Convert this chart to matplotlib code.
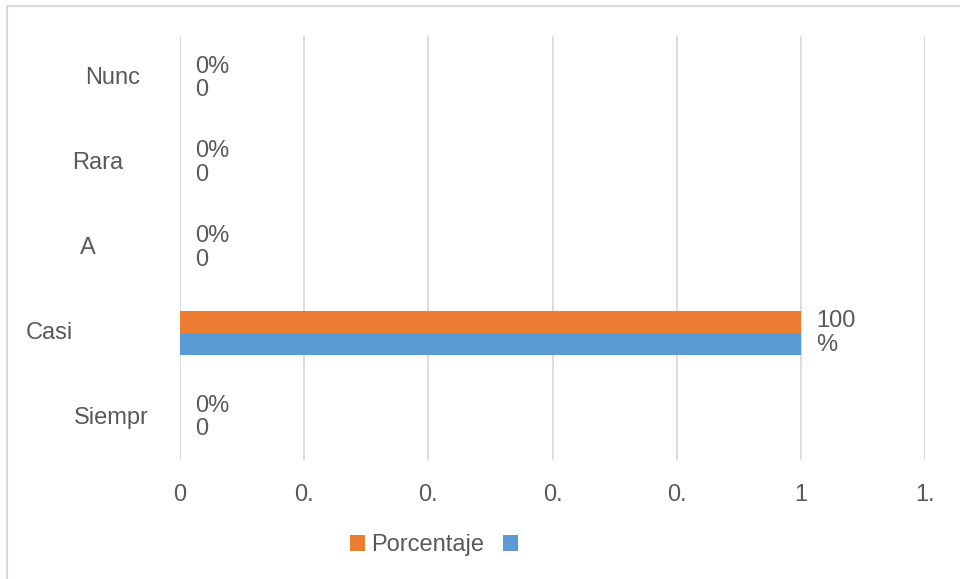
import matplotlib
matplotlib.use("Agg")
import matplotlib.pyplot as plt
from matplotlib.patches import Rectangle
from matplotlib.transforms import blended_transform_factory

plt.rcParams['font.family'] = ['Liberation Sans', 'DejaVu Sans']

categories = ["Siempr", "Casi", "A", "Rara", "Nunc"]
porcentaje = [0, 1, 0, 0, 0]
serie2 = [0, 1, 0, 0, 0]
data_labels = ["0%\n0", "100\n%", "0%\n0", "0%\n0", "0%\n0"]
xticks = [0, 0.2, 0.4, 0.6, 0.8, 1.0, 1.2]
xtick_labels = ["0", "0.", "0.", "0.", "0.", "1", "1."]
series_names = ["Porcentaje", ""]

# style
cat_label_x_px = [111, 49, 88, 98, 113]
TXT = "#595959"
GRID = "#D9D9D9"
ORANGE = "#ED7D31"
BLUE = "#5B9BD5"
FS = 17

W, H = 960, 579
fig = plt.figure(figsize=(W / 100, H / 100), dpi=100)
fig.patches.append(Rectangle((7 / W, -0.1), 1.2, 1 - 6 / H + 0.1, transform=fig.transFigure,
                             fill=False, edgecolor=GRID, linewidth=1.5))

ax = fig.add_axes([180 / W, 1 - 460 / H, (925 - 180) / W, (460 - 36) / H])
y = list(range(len(categories)))
h = 0.26
b1 = ax.barh([v + h / 2 for v in y], porcentaje, height=h, color=ORANGE, label=series_names[0], zorder=3)
b2 = ax.barh([v - h / 2 for v in y], serie2, height=h, color=BLUE, label=series_names[1], zorder=3)

ax.set_xlim(0, 1.2)
ax.set_ylim(-0.5, len(categories) - 0.5)
ax.set_xticks(xticks)
ax.set_xticklabels(xtick_labels)
ax.tick_params(axis='x', length=0, pad=17, labelsize=FS, labelcolor=TXT)
ax.set_yticks([])
for s in ax.spines.values():
    s.set_visible(False)
ax.grid(axis='x', color=GRID, linewidth=1.3, zorder=0)
ax.set_axisbelow(True)

trans = blended_transform_factory(fig.transFigure, ax.transData)
for i, c in enumerate(categories):
    ax.text(cat_label_x_px[i] / W, i, c, transform=trans, ha='center', va='center',
            fontsize=FS, color=TXT)

for i, lab in enumerate(data_labels):
    xv = max(porcentaje[i], serie2[i])
    ax.annotate(lab, (xv, i), xytext=(11, 0), textcoords='offset points', ha='left', va='center',
                fontsize=FS, color=TXT, linespacing=1.1)

leg = fig.legend(handles=[b1, b2], labels=series_names, loc='center', ncol=2,
                 bbox_to_anchor=(437 / W, 1 - 545 / H), frameon=False, fontsize=FS,
                 handlelength=0.65, handleheight=0.65, handletextpad=0.25, columnspacing=0.8,
                 labelcolor=TXT)

fig.savefig("out.png", dpi=100)
